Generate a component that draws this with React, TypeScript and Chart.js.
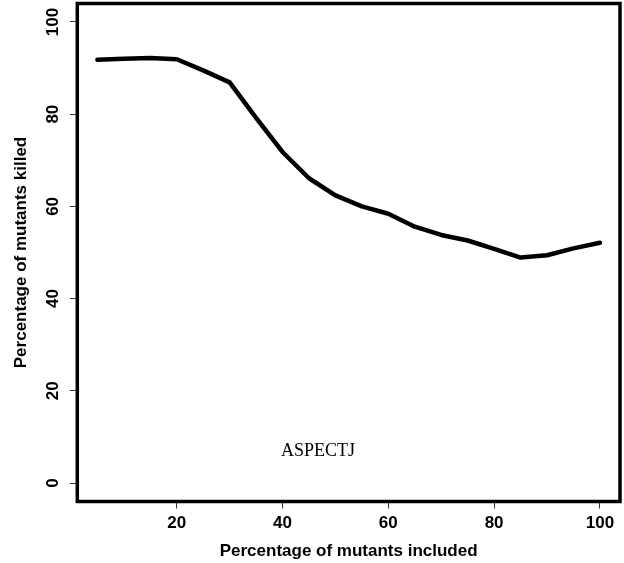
import React, { useEffect, useRef } from "react";
import { Chart, registerables } from "chart.js";

Chart.register(...registerables);

// ---- data ----
const mutantsIncluded = [5, 10, 15, 20, 25, 30, 35, 40, 45, 50, 55, 60, 65, 70, 75, 80, 85, 90, 95, 100];
const mutantsKilled = [91.8, 92.0, 92.2, 91.9, 89.5, 86.9, 79.2, 71.8, 66.1, 62.4, 60.0, 58.4, 55.6, 53.8, 52.6, 50.8, 48.9, 49.4, 50.9, 52.1];
const xTicks = [20, 40, 60, 80, 100];
const yTicks = [0, 20, 40, 60, 80, 100];
const xRange = [1.2, 103.8];
const yRange = [-4, 104];
const xTitle = "Percentage of mutants included";
const yTitle = "Percentage of mutants killed";
const annotationText = "ASPECTJ";
const annotationAt = [46.7, 7.0];

const SANS = "'Liberation Sans', Arial, Helvetica, sans-serif";
const SERIF = "'Liberation Serif', 'DejaVu Serif', serif";

const boxPlugin = {
  id: "boxPlugin",
  afterDatasetsDraw(chart: any) {
    const { ctx, chartArea, scales } = chart;
    ctx.save();
    // annotation text
    ctx.fillStyle = "#000";
    ctx.font = `18px ${SERIF}`;
    ctx.textAlign = "center";
    ctx.textBaseline = "middle";
    ctx.fillText(
      annotationText,
      scales.x.getPixelForValue(annotationAt[0]),
      scales.y.getPixelForValue(annotationAt[1])
    );
    // box
    ctx.strokeStyle = "#000";
    ctx.lineWidth = 3.5;
    ctx.lineJoin = "miter";
    ctx.strokeRect(
      chartArea.left,
      chartArea.top,
      chartArea.right - chartArea.left,
      chartArea.bottom - chartArea.top
    );
    ctx.restore();
  },
};

export default function App() {
  const ref = useRef<HTMLCanvasElement | null>(null);

  useEffect(() => {
    if (!ref.current) return;
    const chart = new Chart(ref.current, {
      type: "line",
      data: {
        datasets: [
          {
            data: mutantsIncluded.map((x, i) => ({ x, y: mutantsKilled[i] })),
            borderColor: "#000",
            borderWidth: 4.5,
            borderCapStyle: "round",
            borderJoinStyle: "round",
            pointRadius: 0,
            fill: false,
            tension: 0,
          },
        ],
      },
      options: {
        animation: false,
        responsive: false,
        devicePixelRatio: 1,
        layout: { padding: { top: 3.5, right: 4, left: 0, bottom: 0 } },
        plugins: {
          legend: { display: false },
          tooltip: { enabled: false },
        },
        scales: {
          x: {
            type: "linear",
            min: xRange[0],
            max: xRange[1],
            afterBuildTicks: (s: any) => {
              s.ticks = xTicks.map((v) => ({ value: v }));
            },
            afterFit: (s: any) => {
              s.height = 61.5;
              s.paddingLeft = 0;
              s.paddingRight = 0;
            },
            border: { display: false },
            grid: {
              drawOnChartArea: false,
              drawTicks: true,
              tickLength: 7,
              color: "#333",
              lineWidth: 1,
            },
            ticks: {
              color: "#000",
              font: { family: SANS, size: 17, weight: "bold" },
              padding: 5,
              maxRotation: 0,
              minRotation: 0,
              autoSkip: false,
            },
            title: {
              display: true,
              text: xTitle,
              color: "#000",
              font: { family: SANS, size: 17, weight: "bold" },
              padding: { top: 0, bottom: 1 },
            },
          },
          y: {
            type: "linear",
            min: yRange[0],
            max: yRange[1],
            afterBuildTicks: (s: any) => {
              s.ticks = yTicks.map((v) => ({ value: v }));
            },
            afterFit: (s: any) => {
              s.width = 77.3;
              s.paddingTop = 0;
              s.paddingBottom = 0;
            },
            border: { display: false },
            grid: {
              drawOnChartArea: false,
              drawTicks: true,
              tickLength: 7.5,
              color: "#333",
              lineWidth: 1,
            },
            ticks: {
              color: "#000",
              font: { family: SANS, size: 17, weight: "bold" },
              padding: 2,
              minRotation: 90,
              maxRotation: 90,
              crossAlign: "center",
              autoSkip: false,
            },
            title: {
              display: true,
              text: yTitle,
              color: "#000",
              font: { family: SANS, size: 17, weight: "bold" },
              padding: { top: 10.8, bottom: 0 },
            },
          },
        },
      },
      plugins: [boxPlugin],
    } as any);
    return () => chart.destroy();
  }, []);

  return (
    <div style={{ position: "fixed", left: 0, top: 0, width: 624, height: 563, background: "#fff" }}>
      <canvas ref={ref} width={624} height={563} style={{ display: "block", width: 624, height: 563 }} />
    </div>
  );
}
